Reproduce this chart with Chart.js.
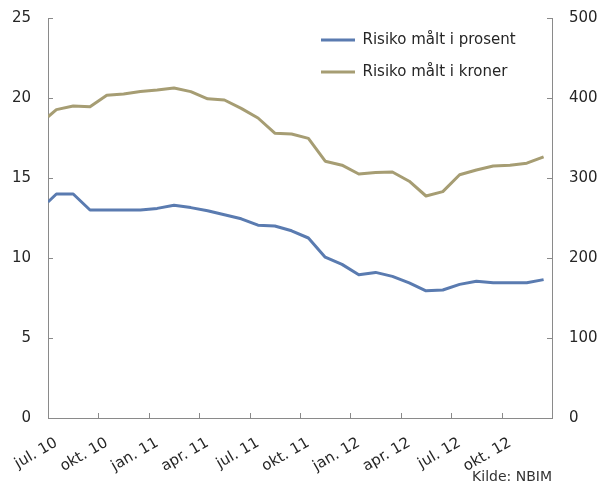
<!DOCTYPE html>
<html><head><meta charset="utf-8">
<script src="https://cdn.jsdelivr.net/npm/chart.js@4.4.1/dist/chart.umd.min.js"></script>
<style>html,body{margin:0;padding:0;background:#fff}canvas{display:block}</style>
</head><body>
<canvas id="c" width="600" height="484"></canvas>
<script>
// Months (categories). Index 0 of each series is the value at the start of jul. 10.
const months = ['jul. 10','aug. 10','sep. 10','okt. 10','nov. 10','des. 10','jan. 11','feb. 11','mar. 11','apr. 11','mai 11','jun. 11','jul. 11','aug. 11','sep. 11','okt. 11','nov. 11','des. 11','jan. 12','feb. 12','mar. 12','apr. 12','mai 12','jun. 12','jul. 12','aug. 12','sep. 12','okt. 12','nov. 12','des. 12'];
const xTickLabels = ['jul. 10','okt. 10','jan. 11','apr. 11','jul. 11','okt. 11','jan. 12','apr. 12','jul. 12','okt. 12'];
const prosent = [13.5, 14.0, 14.0, 13.0, 13.0, 13.0, 13.0, 13.1, 13.3, 13.15, 12.95, 12.7, 12.45, 12.05, 12.0, 11.7, 11.25, 10.05, 9.6, 8.95, 9.1, 8.85, 8.45, 7.95, 8.0, 8.35, 8.55, 8.45, 8.45, 8.45, 8.65];
const kroner = [376.5, 385.5, 390, 389, 403.5, 405, 408, 410, 412.5, 408, 399, 397.5, 387, 375, 356, 355, 349.5, 321, 316, 305, 307, 307.5, 296, 277.5, 283, 304, 310, 315, 316, 318.5, 326.5];
const seriesNames = ['Risiko målt i prosent', 'Risiko målt i kroner'];
const leftAxis = {min: 0, max: 25, step: 5};
const rightAxis = {min: 0, max: 500, step: 100};
const source = 'Kilde: NBIM';

const blue = '#5a7bb0';
const olive = '#a69d73';
const axisColor = '#8a8a8a';
const textColor = '#262626';
const FONT = "'DejaVu Sans', sans-serif";

// x position: index 0 = start of first month, index k = middle of month k-1
const toPoints = arr => arr.map((v, k) => ({x: k === 0 ? 0 : k - 0.5, y: v}));

const noPad = s => { s.paddingLeft = 0; s.paddingRight = 0; s.paddingTop = 0; s.paddingBottom = 0; };

const inwardTicks = {
  id: 'inwardTicks',
  beforeDatasetsDraw(chart) {
    const {ctx, chartArea: a, scales} = chart;
    ctx.save();
    ctx.strokeStyle = axisColor; ctx.lineWidth = 1;
    ctx.beginPath();
    scales.y.ticks.forEach(t => {
      const y = Math.round(scales.y.getPixelForValue(t.value)) + 0.5;
      ctx.moveTo(a.left, y); ctx.lineTo(a.left + 5, y);
    });
    scales.y2.ticks.forEach(t => {
      const y = Math.round(scales.y2.getPixelForValue(t.value)) + 0.5;
      ctx.moveTo(a.right, y); ctx.lineTo(a.right - 5, y);
    });
    scales.x.ticks.forEach(t => {
      const x = Math.round(scales.x.getPixelForValue(t.value)) + 0.5;
      ctx.moveTo(x, a.bottom); ctx.lineTo(x, a.bottom - 5);
    });
    ctx.stroke();
    ctx.restore();
  }
};

const legendPlace = {
  id: 'legendPlace',
  afterLayout(chart) {
    const lg = chart.legend;
    if (!lg) return;
    lg.left = 304; lg.right = 304 + 260;
    lg.top = 15.5; lg.bottom = 15.5 + 300;
    lg.width = 260; lg.height = 300;
  }
};

new Chart(document.getElementById('c'), {
  type: 'line',
  data: {
    datasets: [
      {label: seriesNames[0], data: toPoints(prosent), yAxisID: 'y', borderColor: blue, backgroundColor: blue, borderWidth: 3, pointRadius: 0, tension: 0, borderJoinStyle: 'round'},
      {label: seriesNames[1], data: toPoints(kroner), yAxisID: 'y2', borderColor: olive, backgroundColor: olive, borderWidth: 3, pointRadius: 0, tension: 0, borderJoinStyle: 'round'}
    ]
  },
  options: {
    responsive: false,
    animation: false,
    devicePixelRatio: 1,
    layout: {padding: {top: 18, left: 0, right: 0, bottom: 0}},
    plugins: {
      tooltip: {enabled: false},
      legend: {
        position: 'chartArea',
        align: 'start',
        labels: {
          font: {family: FONT, size: 15},
          color: textColor,
          boxWidth: 34,
          boxHeight: 3,
          padding: 17,
          generateLabels(chart) {
            return chart.data.datasets.map((d, i) => ({
              text: d.label, fillStyle: d.borderColor, strokeStyle: d.borderColor,
              lineWidth: 0, hidden: false, datasetIndex: i, fontColor: textColor
            }));
          }
        }
      }
    },
    scales: {
      x: {
        type: 'linear', min: 0, max: months.length,
        grid: {display: false, drawTicks: false},
        border: {display: true, color: axisColor, width: 1},
        afterFit(s) { s.height = 66; noPad(s); },
        afterBuildTicks(s) {
          const t = [];
          for (let v = 0; v < months.length; v += 3) t.push({value: v});
          s.ticks = t;
        },
        ticks: {
          autoSkip: false, minRotation: 30, maxRotation: 30, padding: 16,
          labelOffset: 8.4,
          color: textColor, font: {family: FONT, size: 15},
          callback: v => xTickLabels[v / 3] || ''
        },
        title: {display: true, text: source, align: 'end', color: '#333',
          font: {family: FONT, size: 14, lineHeight: 1}, padding: {top: 0, bottom: 0}}
      },
      y: {
        position: 'left', min: leftAxis.min, max: leftAxis.max,
        grid: {display: false, drawTicks: false},
        border: {display: true, color: axisColor, width: 1},
        afterFit(s) { s.width = 48; noPad(s); },
        ticks: {stepSize: leftAxis.step, padding: 17, color: textColor, font: {family: FONT, size: 15}}
      },
      y2: {
        position: 'right', min: rightAxis.min, max: rightAxis.max,
        grid: {display: false, drawTicks: false},
        border: {display: true, color: axisColor, width: 1},
        afterFit(s) { s.width = 48; noPad(s); },
        ticks: {stepSize: rightAxis.step, padding: 17, color: textColor, font: {family: FONT, size: 15}}
      }
    }
  },
  plugins: [inwardTicks, legendPlace]
});
</script>
</body></html>
